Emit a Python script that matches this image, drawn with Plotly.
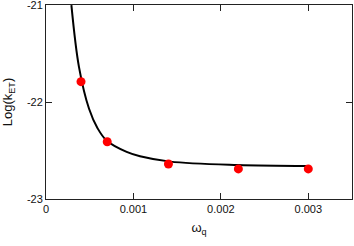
import plotly.graph_objects as go

# measured points (red dots)
omega_q = [0.0004, 0.0007, 0.0014, 0.0022, 0.003]
log_ket = [-21.79, -22.41, -22.64, -22.69, -22.69]

# fitted curve
fit_x = [0.00029, 0.000377, 0.000492, 0.000589, 0.000695,
         0.000922, 0.001075, 0.00142, 0.00219, 0.00299]
fit_y = [-21.0, -21.64, -22.07, -22.27, -22.40,
         -22.515, -22.56, -22.615, -22.65, -22.66]

x_ticks = [0, 0.001, 0.002, 0.003]
x_ticklabels = ['0', '0.001', '0.002', '0.003']
y_ticks = [-23, -22, -21]
y_ticklabels = ['-23', '-22', '-21']

fig = go.Figure()

fig.add_trace(go.Scatter(
    x=fit_x, y=fit_y,
    mode='lines',
    line=dict(color='black', width=2, shape='spline', smoothing=1.0),
    showlegend=False
))

fig.add_trace(go.Scatter(
    x=omega_q, y=log_ket,
    mode='markers',
    marker=dict(color='#ff0000', size=9),
    showlegend=False
))

axis_style = dict(
    showgrid=False,
    zeroline=False,
    showline=True,
    linecolor='#222222',
    linewidth=1,
    mirror='ticks',
    ticks='inside',
    ticklen=6,
    tickcolor='#222222',
    ticklabeloverflow='allow',
    automargin=False,
    tickfont=dict(family='Liberation Sans, Arial', size=11, color='#111111'),
)

fig.update_layout(
    width=354, height=246,
    margin=dict(l=46, r=2, t=5, b=47),
    paper_bgcolor='white',
    plot_bgcolor='white',
    font=dict(family='Liberation Sans, Arial', size=11, color='#111111'),
    xaxis=dict(
        range=[-0.0000005, 0.0035],
        tickvals=x_ticks, ticktext=x_ticklabels,
        title=dict(text='ω<sub>q</sub>', standoff=8),
        **axis_style
    ),
    yaxis=dict(
        range=[-23.0005, -20.9995],
        tickvals=y_ticks, ticktext=y_ticklabels,
        title=dict(text='Log(k<sub>ET</sub>)', standoff=14),
        **axis_style
    ),
)

# page has a default 8px body margin; drop it so the figure sits at 0,0
fig.write_html("out.html", config={'displayModeBar': False},
               post_script="document.body.style.margin='0';")
